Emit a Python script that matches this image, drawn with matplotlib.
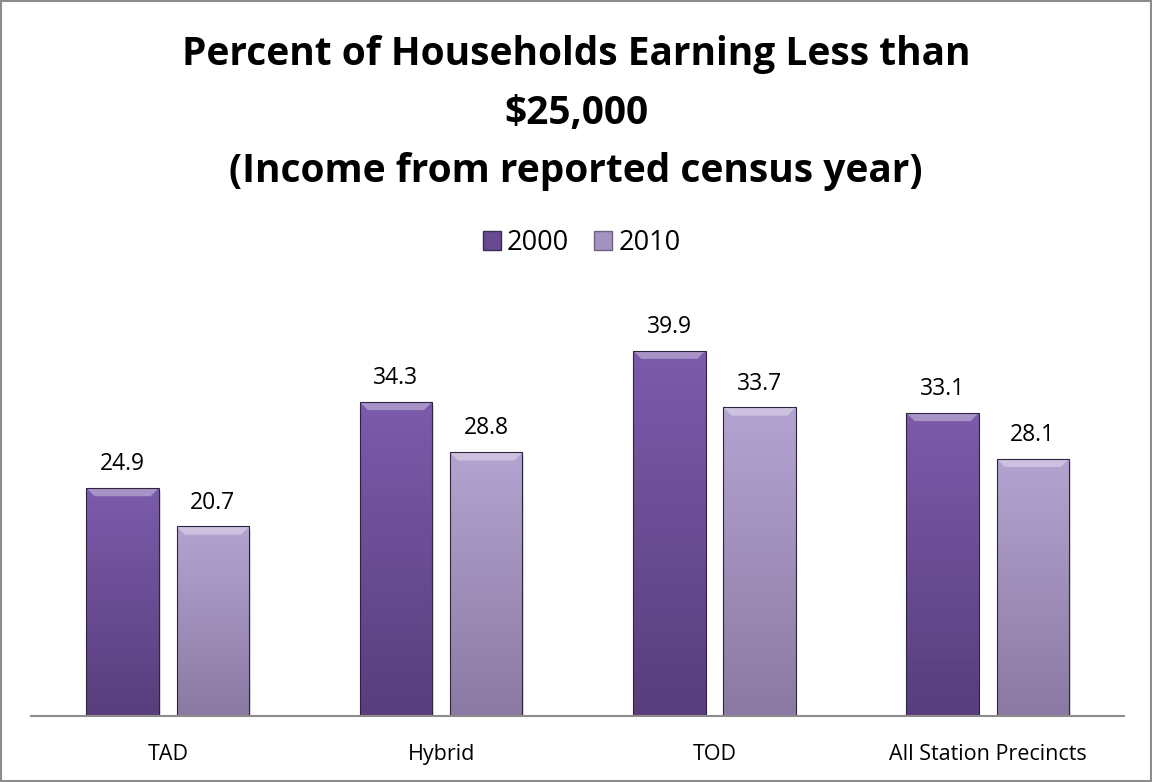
import numpy as np
import matplotlib.pyplot as plt
from matplotlib.patches import Rectangle, Polygon, Patch
from matplotlib.colors import LinearSegmentedColormap

plt.rcParams['font.family'] = ['Open Sans', 'DejaVu Sans']

# data
categories = ['TAD', 'Hybrid', 'TOD', 'All Station Precincts']
years = ['2000', '2010']
values_2000 = [24.9, 34.3, 39.9, 33.1]
values_2010 = [20.7, 28.8, 33.7, 28.1]

# colours (top, bottom) for the gradient fill
grad_2000 = ('#7b5bab', '#583e7c')
grad_2010 = ('#b3a3d0', '#8a7aa3')

fig = plt.figure(figsize=(11.52, 7.82), dpi=100)
ax = fig.add_axes([0.027, 0.0844, 0.949, 0.527])

x = np.arange(len(categories))
w = 0.265
gap = 0.065
offs = (w + gap) / 2


def draw_bar(ax, xc, h, cols):
    x0 = xc - w / 2
    bar = Rectangle((x0, 0), w, h, facecolor='none', edgecolor='#2e2440',
                    linewidth=0.8, zorder=4)
    ax.add_patch(bar)
    cmap = LinearSegmentedColormap.from_list('g', [cols[1], cols[0]])
    grad = np.linspace(0, 1, 100).reshape(-1, 1)
    im = ax.imshow(grad, cmap=cmap, origin='lower', aspect='auto',
                   extent=(x0, x0 + w, 0, h), zorder=3)
    im.set_clip_path(bar)
    # top bevel
    bev_h = 0.9
    bev_w = 0.03
    top = Polygon([(x0, h), (x0 + w, h), (x0 + w - bev_w, h - bev_h),
                   (x0 + bev_w, h - bev_h)], closed=True,
                  facecolor='white', alpha=0.35, edgecolor='none', zorder=3.5)
    ax.add_patch(top)
    # shadow
    sh = Rectangle((x0 + 0.006, -0.35), w, h, facecolor='#000000', alpha=0.12,
                   edgecolor='none', zorder=2)
    ax.add_patch(sh)


for i in range(len(categories)):
    draw_bar(ax, x[i] - offs, values_2000[i], grad_2000)
    draw_bar(ax, x[i] + offs, values_2010[i], grad_2010)
    ax.text(x[i] - offs, values_2000[i] + 1.95, f'{values_2000[i]:.1f}',
            ha='center', va='baseline', fontsize=16.5)
    ax.text(x[i] + offs, values_2010[i] + 1.95, f'{values_2010[i]:.1f}',
            ha='center', va='baseline', fontsize=16.5)

ax.set_xlim(-0.5, len(categories) - 0.5)
ax.set_ylim(0, 45)
ax.set_xticks(x)
ax.set_xticklabels(categories, fontsize=15.5)
ax.tick_params(axis='x', length=0, pad=20)
ax.set_yticks([])
for s in ['top', 'right', 'left']:
    ax.spines[s].set_visible(False)
ax.spines['bottom'].set_color('#8c8c8c')
ax.spines['bottom'].set_linewidth(1.5)
ax.spines['bottom'].set_zorder(5)
ax.set_facecolor('none')

# title, one line per text so the baselines sit where they should
title_lines = ['Percent of Households Earning Less than', '$25,000',
               '(Income from reported census year)']
for line, yy in zip(title_lines, [0.9169, 0.8414, 0.7673]):
    fig.text(0.5, yy, line, ha='center', va='baseline', fontsize=28,
             fontweight='bold')

# legend
handles = [Patch(facecolor='#674a92', edgecolor='#3a2c55'),
           Patch(facecolor='#a393c0', edgecolor='#6d5f88')]
fig.legend(handles, years, loc='center', bbox_to_anchor=(0.505, 0.689), ncol=2,
           frameon=False, fontsize=19.5, handlelength=0.67, handleheight=0.67,
           handletextpad=0.22, columnspacing=0.93, borderpad=0.2)

# outer border
fig.patches.append(Rectangle((0.001, 0.001), 0.998, 0.998, transform=fig.transFigure,
                             facecolor='none', edgecolor='#8c8c8c', linewidth=1.5))

plt.savefig('out.png', dpi=100)
